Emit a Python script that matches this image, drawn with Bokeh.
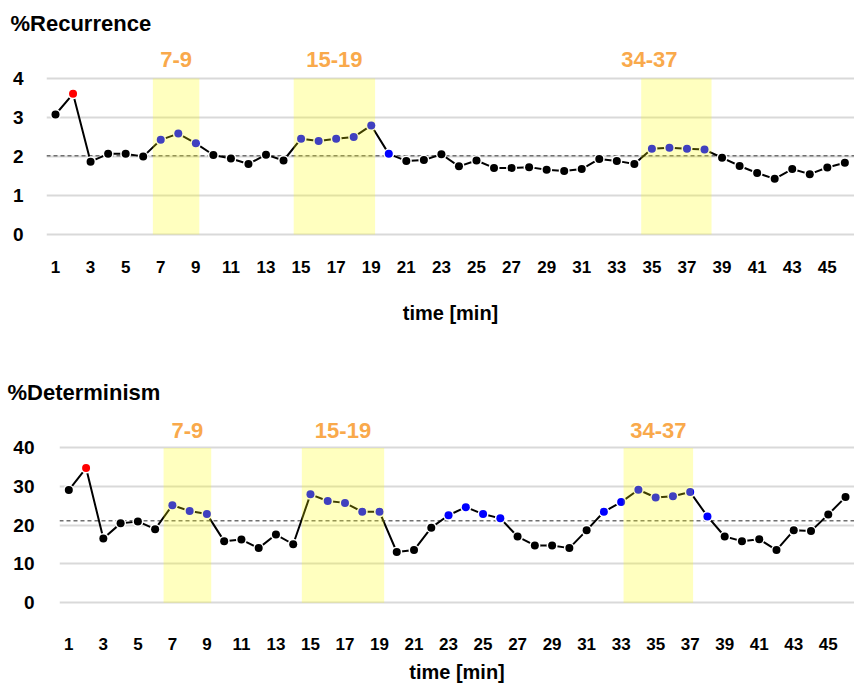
from bokeh.plotting import figure
from bokeh.models import BoxAnnotation, Span, FixedTicker, ColumnDataSource
from bokeh.layouts import column, row
from bokeh.core.properties import value
from bokeh.embed import file_html
from bokeh.resources import INLINE

# ---------------- data ----------------
minutes = list(range(1, 47))
x_ticks = list(range(1, 46, 2))

rec_values = [3.08, 3.61, 1.87, 2.07, 2.07, 2.00, 2.43, 2.59, 2.34, 2.04,
              1.95, 1.81, 2.05, 1.90, 2.46, 2.40, 2.46, 2.50, 2.80, 2.07,
              1.89, 1.91, 2.06, 1.75, 1.90, 1.71, 1.71, 1.73, 1.66, 1.63,
              1.68, 1.94, 1.89, 1.81, 2.20, 2.23, 2.20, 2.18, 1.97, 1.76,
              1.58, 1.43, 1.68, 1.55, 1.72, 1.84]
rec_flags = ("n r n n n n b b b n n n n n b b b b b b n n n n n n n n n n "
             "n n n n b b b b n n n n n n n n").split()
rec_mean = 2.02
rec_yticks = [0, 1, 2, 3, 4]
rec_region_start = [6.55, 14.58, 34.39]
rec_region_end = [9.20, 19.22, 38.40]
rec_region_labels = ["7-9", "15-19", "34-37"]

det_values = [29.1, 34.8, 16.6, 20.5, 21.0, 19.0, 25.2, 23.7, 22.9, 15.9,
              16.3, 14.1, 17.6, 15.1, 28.0, 26.3, 25.8, 23.5, 23.5, 13.1,
              13.6, 19.4, 22.6, 24.7, 22.9, 21.8, 17.1, 14.8, 14.8, 14.1,
              18.7, 23.5, 26.0, 29.2, 27.2, 27.5, 28.6, 22.3, 17.1, 15.9,
              16.4, 13.6, 18.7, 18.5, 22.8, 27.3]
det_flags = ("n r n n n n b b b n n n n n b b b b b n n n b b b b n n n n "
             "n b b b b b b b n n n n n n n n").split()
det_mean = 21.2
det_yticks = [0, 10, 20, 30, 40]
det_region_start = [6.49, 14.50, 33.14]
det_region_end = [9.25, 19.27, 37.17]
det_region_labels = ["7-9", "15-19", "34-37"]

# ---------------- style ----------------
FONT = "Liberation Sans"
FLAG_COLORS = {"n": "#000000", "r": "#FF0000", "b": "#0000FF"}
ORANGE = "#F9A94B"
WIDTH = 854


def panel(title, vals, flags, mean, yticks, rs, re_, labels, *, height,
          x_range, y_range, border_left, border_top, border_bottom,
          title_offset, title_standoff, label_y, label_dx, ytick_standoff,
          tick_standoff, axis_standoff):
    p = figure(width=WIDTH, height=height, x_range=x_range, y_range=y_range,
               output_backend="svg", toolbar_location=None,
               min_border_left=border_left, min_border_right=0,
               min_border_top=border_top, min_border_bottom=border_bottom)
    p.outline_line_color = None
    p.background_fill_color = "white"
    p.border_fill_color = "white"

    p.title.text = title
    p.title.text_font = FONT
    p.title.text_font_size = "22px"
    p.title.text_font_style = "bold"
    p.title.align = "left"
    p.title.offset = title_offset
    p.title.standoff = title_standoff
    p.title.text_color = "#000000"

    p.xgrid.visible = False
    p.ygrid.grid_line_color = "#D9D9D9"
    p.ygrid.grid_line_width = 2
    p.yaxis.ticker = FixedTicker(ticks=yticks)
    p.xaxis.ticker = FixedTicker(ticks=x_ticks)
    for ax in (p.xaxis, p.yaxis):
        ax.axis_line_color = None
        ax.major_tick_line_color = None
        ax.minor_tick_line_color = None
        ax.major_tick_out = 0
        ax.major_tick_in = 0
        ax.major_label_text_font = FONT
        ax.major_label_text_font_style = "bold"
        ax.major_label_text_color = "#000000"
    p.yaxis.major_label_text_font_size = "19px"
    p.yaxis.major_label_standoff = ytick_standoff
    p.xaxis.major_label_text_font_size = "17px"
    p.xaxis.major_label_standoff = tick_standoff
    p.xaxis.axis_label = "time [min]"
    p.xaxis.axis_label_text_font = FONT
    p.xaxis.axis_label_text_font_size = "20px"
    p.xaxis.axis_label_text_font_style = "bold"
    p.xaxis.axis_label_text_color = "#000000"
    p.xaxis.axis_label_standoff = axis_standoff

    p.add_layout(Span(location=mean, dimension="width", line_color="#707070",
                      line_width=1.5, line_dash="4 3", level="underlay"))

    src = ColumnDataSource(dict(x=minutes, y=vals,
                                c=[FLAG_COLORS[f] for f in flags]))
    p.line("x", "y", source=src, line_color="#000000", line_width=2)
    p.scatter("x", "y", source=src, size=11, fill_color="white",
              line_color=None)
    p.scatter("x", "y", source=src, size=8, fill_color="c", line_color=None)

    for a, b in zip(rs, re_):
        p.add_layout(BoxAnnotation(left=a, right=b, bottom=yticks[0],
                                   top=yticks[-1], fill_color="#FFFF00",
                                   fill_alpha=0.25, line_color=None))

    lsrc = ColumnDataSource(dict(
        x=[(a + b) / 2 for a, b in zip(rs, re_)],
        y=[label_y] * len(labels), t=labels, dx=label_dx))
    p.text("x", "y", text="t", source=lsrc, text_font=value(FONT),
           text_font_style="bold", text_font_size="22px", text_color=ORANGE,
           text_align="center", text_baseline="middle", x_offset="dx")
    return p


p1 = panel("%Recurrence", rec_values, rec_flags, rec_mean, rec_yticks,
           rec_region_start, rec_region_end, rec_region_labels,
           height=367, x_range=(0.487, 46.55), y_range=(-0.1, 4.9),
           border_left=46, border_top=42, border_bottom=129,
           title_offset=-36, title_standoff=16, label_y=4.5,
           label_dx=[0, 0, -27], ytick_standoff=23, tick_standoff=22,
           axis_standoff=26)

p2 = panel("%Determinism", det_values, det_flags, det_mean, det_yticks,
           det_region_start, det_region_end, det_region_labels,
           height=319, x_range=(0.46, 46.52), y_range=(-1, 48.4),
           border_left=59, border_top=46, border_bottom=80,
           title_offset=-52, title_standoff=21, label_y=44.5,
           label_dx=[0, 0, 0], ytick_standoff=25, tick_standoff=31,
           axis_standoff=8)

layout = column(row(p1), row(p2), spacing=0)
open("out.html", "w").write(file_html(layout, INLINE))
